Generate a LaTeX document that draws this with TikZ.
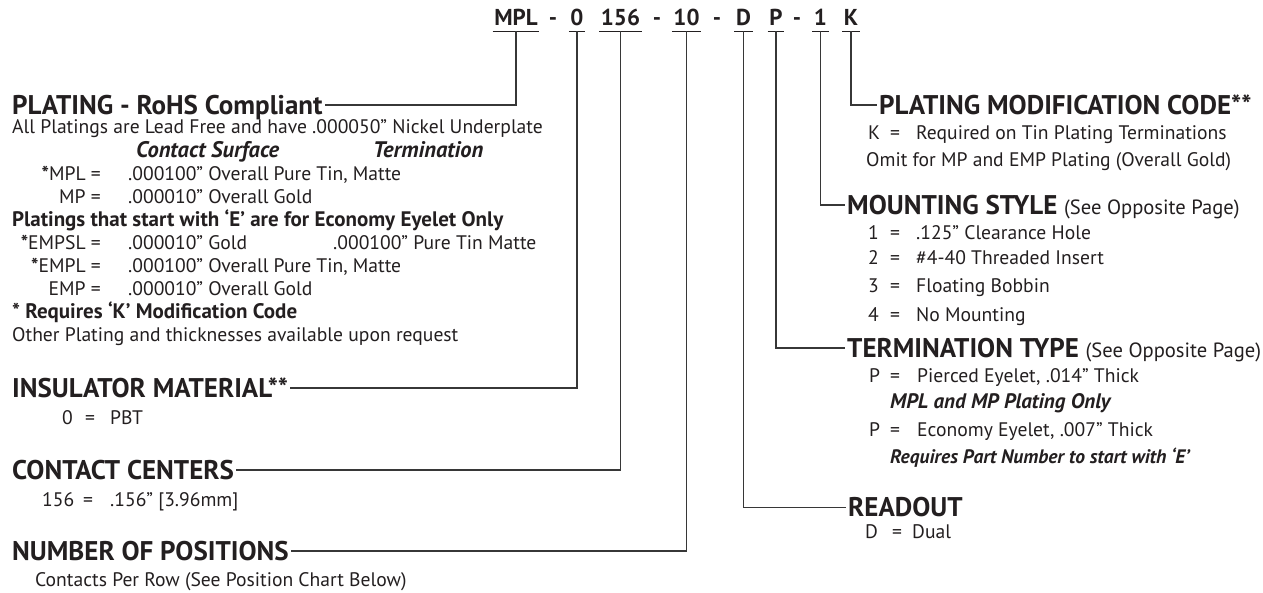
\documentclass[tikz,border=0pt]{standalone}
\usepackage{fontspec}
\setmainfont{PT Sans}
\begin{document}
\begin{tikzpicture}[x=1pt, y=-1pt, font=\fontsize{19.6}{19.6}\selectfont]
			
			% ==========================================
			% 1. COLOURS
			% ==========================================
			\definecolor{inkcol}{RGB}{35, 31, 32}     % text
			\definecolor{linecol}{RGB}{55, 55, 55}    % leader lines
			
			% ==========================================
			% 2. STYLES
			% ==========================================
			\tikzset{
				code/.style={font=\bfseries\fontsize{23}{23}\selectfont, text=inkcol, inner xsep=1.5pt, inner ysep=6pt, text height=15.5pt, text depth=0pt},
				head/.style={font=\bfseries\fontsize{27}{27}\selectfont, text=inkcol, anchor=west, inner xsep=2pt, inner ysep=0pt, text height=18.5pt, text depth=0pt},
				txt/.style={font=\fontsize{19.6}{19.6}\selectfont, text=inkcol, anchor=west, inner sep=0pt, text height=13.7pt, text depth=0pt},
				lead/.style={draw=linecol, line width=1.1pt},
				uline/.style={draw=inkcol, line width=1.6pt}
			}
			\newcommand{\bsz}{\bfseries\fontsize{21}{21}\selectfont}          % bold body
			\newcommand{\bisz}{\bfseries\itshape\fontsize{21}{21}\selectfont} % bold italic notes
			\newcommand{\subsz}{\mdseries\fontsize{20.6}{20.6}\selectfont}   % (See Opposite Page)
			
			% ==========================================
			% 3. BACKGROUND
			% ==========================================
			\fill[white] (0,0) rectangle (1263,593);
			\useasboundingbox (0,0) rectangle (1263,593);
			
			% ==========================================
			% 4. PART NUMBER
			% ==========================================
			\node[code] (cMPL) at (516,17.5) {MPL};
			\node[code] (dash1) at (553,17.5) {-};
			\node[code] (c0) at (577,17.5) {0};
			\node[code] (c156) at (620.5,17.5) {156};
			\node[code] (dash2) at (657,17.5) {-};
			\node[code] (c10) at (686.5,17.5) {10};
			\node[code] (dash3) at (717,17.5) {-};
			\node[code] (cD) at (743.5,17.5) {D};
			\node[code] (cP) at (776,17.5) {P};
			\node[code] (dash4) at (797,17.5) {-};
			\node[code] (c1) at (820.5,17.5) {1};
			\node[code] (cK) at (851,17.5) {K};
			
			% underlines
			\foreach \c in {cMPL,c0,c156,c10,cD,cP,c1,cK} {
				\draw[uline] (\c.south west) -- (\c.south east);
			}
			
			% ==========================================
			% 5. HEADINGS
			% ==========================================
			\node[head] (hPlat) at (10,105) {PLATING - RoHS Compliant};
			\node[head] (hIns) at (10,388) {INSULATOR MATERIAL**};
			\node[head] (hCen) at (10,470) {CONTACT CENTERS};
			\node[head] (hNum) at (10,551) {NUMBER OF POSITIONS};
			
			\node[head] (hMod) at (877,105) {PLATING MODIFICATION CODE**};
			\node[head] (hMnt) at (845,205) {MOUNTING STYLE {\subsz(See Opposite Page)}};
			\node[head] (hTrm) at (845,348) {TERMINATION TYPE {\subsz(See Opposite Page)}};
			\node[head] (hRd) at (846,507.5) {READOUT};
			
			% ==========================================
			% 6. LEADER LINES
			% ==========================================
			\draw[lead] (cMPL.south) |- (hPlat.east);
			\draw[lead] (c0.south) |- (hIns.east);
			\draw[lead] (c156.south) |- (hCen.east);
			\draw[lead] (c10.south) |- (hNum.east);
			\draw[lead] (cD.south) |- (hRd.west);
			\draw[lead] (cP.south) |- (hTrm.west);
			\draw[lead] (c1.south) |- (hMnt.west);
			\draw[lead] (cK.south) |- (hMod.west);
			
			% ==========================================
			% 7. PLATING TABLE
			% ==========================================
			\node[txt] (pAll) at (12,127) {All Platings are Lead Free and have .000050” Nickel Underplate};
			\node[txt] (pSurf) at (136,151) {\bfseries\itshape\fontsize{22.5}{22.5}\selectfont Contact Surface};
			\node[txt] (pTerm) at (373,151) {\bfseries\itshape\fontsize{22.5}{22.5}\selectfont Termination};
			
			\node[txt, anchor=east] (kMPL) at (101,174) {{\bfseries*}MPL =};
			\node[txt] (vMPL) at (128,174) {.000100” Overall Pure Tin, Matte};
			\node[txt, anchor=east] (kMP) at (101,197) {MP =};
			\node[txt] (vMP) at (128,197) {.000010” Overall Gold};
			
			\node[txt] (pEco) at (12,220) {\bsz Platings that start with ‘E’ are for Economy Eyelet Only};
			
			\node[txt, anchor=east] (kEMPSL) at (101,243) {{\bfseries*}EMPSL =};
			\node[txt] (vEMPSL) at (128,243) {.000010” Gold};
			\node[txt] (tEMPSL) at (333,243) {.000100” Pure Tin Matte};
			\node[txt, anchor=east] (kEMPL) at (101,266) {{\bfseries*}EMPL =};
			\node[txt] (vEMPL) at (128,266) {.000100” Overall Pure Tin, Matte};
			\node[txt, anchor=east] (kEMP) at (101,289) {EMP =};
			\node[txt] (vEMP) at (128,289) {.000010” Overall Gold};
			
			\node[txt] (pReq) at (12,312) {\bsz * Requires ‘K’ Modification Code};
			\node[txt] (pOther) at (12,335) {Other Plating and thicknesses available upon request};
			
			% ==========================================
			% 8. LEFT VALUES
			% ==========================================
			\node[txt] (iPBT) at (62,418) {\makebox[23pt][l]{0}\makebox[25pt][l]{=}PBT};
			\node[txt] (cVal) at (42,500) {\makebox[41pt][l]{156}\makebox[27pt][l]{=}.156” [3.96mm]};
			\node[txt] (nRow) at (35,580) {Contacts Per Row (See Position Chart Below)};
			
			% ==========================================
			% 9. RIGHT VALUES
			% ==========================================
			\node[txt] (mK) at (868,133) {\makebox[22pt][l]{K}\makebox[26pt][l]{=}Required on Tin Plating Terminations};
			\node[txt] (mOmit) at (866,160) {Omit for MP and EMP Plating (Overall Gold)};
			
			\node[txt] (s1) at (868,233) {\makebox[22pt][l]{1}\makebox[26pt][l]{=}.125” Clearance Hole};
			\node[txt] (s2) at (868,258) {\makebox[22pt][l]{2}\makebox[26pt][l]{=}\#4-40 Threaded Insert};
			\node[txt] (s3) at (868,286) {\makebox[22pt][l]{3}\makebox[26pt][l]{=}Floating Bobbin};
			\node[txt] (s4) at (868,315) {\makebox[22pt][l]{4}\makebox[26pt][l]{=}No Mounting};
			
			\node[txt] (t1) at (869,376) {\makebox[21pt][l]{P}\makebox[27pt][l]{=}Pierced Eyelet, .014” Thick};
			\node[txt] (t2) at (890,402) {\bisz MPL and MP Plating Only};
			\node[txt] (t3) at (869,430) {\makebox[21pt][l]{P}\makebox[27pt][l]{=}Economy Eyelet, .007” Thick};
			\node[txt] (t4) at (890,457) {\bfseries\itshape\fontsize{19.5}{19.5}\selectfont Requires Part Number to start with ‘E’};
			
			\node[txt] (rD) at (865,532) {\makebox[27pt][l]{D}\makebox[20pt][l]{=}Dual};
			
\end{tikzpicture}
\end{document}
